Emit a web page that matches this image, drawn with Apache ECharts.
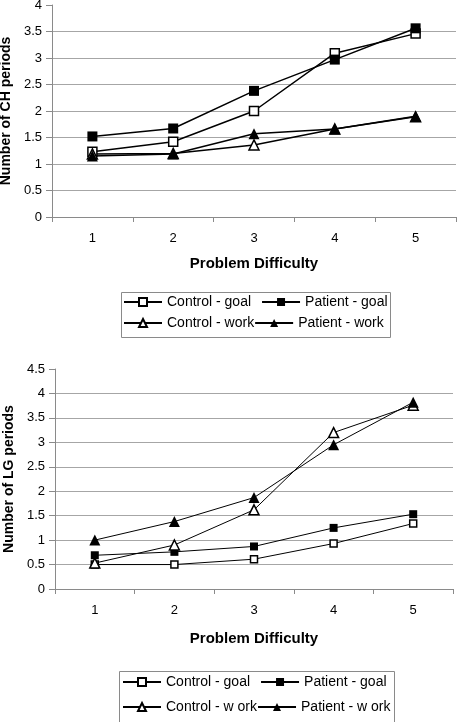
<!DOCTYPE html>
<html>
<head>
<meta charset="utf-8">
<script src="https://cdn.jsdelivr.net/npm/echarts@6/dist/echarts.min.js"></script>
<style>
html,body{margin:0;padding:0;background:#fff;}
#c{width:457px;height:722px;}
</style>
</head>
<body>
<div id="c"></div>
<script>
var categories = ['1', '2', '3', '4', '5'];
var ch_control_goal = [1.23, 1.42, 2.00, 3.09, 3.46];
var ch_patient_goal = [1.52, 1.67, 2.38, 2.97, 3.56];
var ch_control_work = [1.19, 1.20, 1.36, 1.66, 1.89];
var ch_patient_work = [1.15, 1.19, 1.57, 1.66, 1.90];
var lg_control_goal = [0.50, 0.50, 0.61, 0.93, 1.34];
var lg_patient_goal = [0.69, 0.76, 0.87, 1.25, 1.53];
var lg_control_work = [0.53, 0.90, 1.62, 3.20, 3.76];
var lg_patient_work = [1.00, 1.38, 1.87, 2.95, 3.82];

var FONT = '"Liberation Sans", Arial, sans-serif';
var AX = '#8a8a8a';
var GRID = '#a6a6a6';

function mkSeries(name, data, idx, symbol, open, size, lw) {
  return {
    type: 'line', name: name, data: data,
    xAxisIndex: idx, yAxisIndex: idx,
    symbol: symbol, symbolSize: size, showSymbol: true,
    lineStyle: { color: '#000', width: lw },
    itemStyle: { color: open ? '#fff' : '#000', borderColor: '#000', borderWidth: open ? 1.5 : 0 },
    emphasis: { disabled: true },
    animation: false
  };
}

function xAx(idx, gridIdx) {
  return {
    type: 'category', gridIndex: gridIdx, data: categories, boundaryGap: true,
    name: 'Problem Difficulty', nameLocation: 'middle', nameGap: idx === 0 ? 39 : 42,
    nameTextStyle: { fontFamily: FONT, fontSize: 15, fontWeight: 'bold', color: '#000' },
    axisLine: { lineStyle: { color: AX, width: 1 } },
    axisTick: { show: true, length: 5, lineStyle: { color: AX } },
    axisLabel: { fontFamily: FONT, fontSize: 13, color: '#000', margin: 15 },
    splitLine: { show: false }
  };
}
function yAx(gridIdx, max, name, gap) {
  return {
    type: 'value', gridIndex: gridIdx, min: 0, max: max, interval: 0.5,
    name: name, nameLocation: 'middle', nameGap: gap, nameRotate: 90,
    nameTextStyle: { fontFamily: FONT, fontSize: 14, fontWeight: 'bold', color: '#000' },
    axisLine: { show: true, lineStyle: { color: AX, width: 1 } },
    axisTick: { show: true, length: 6, lineStyle: { color: AX } },
    axisLabel: { fontFamily: FONT, fontSize: 13, color: '#000', margin: 10 },
    splitLine: { show: true, showMaxLine: false, showMinLine: false, lineStyle: { color: GRID, width: 1 } }
  };
}
function leg(data, left, top, gap) {
  return {
    data: data, left: left, top: top, orient: 'horizontal', itemGap: gap,
    itemWidth: 38, itemHeight: 10, padding: 0,
    textStyle: { fontFamily: FONT, fontSize: 14, color: '#000' },
    selectedMode: false
  };
}

var chart = echarts.init(document.getElementById('c'), null, { renderer: 'canvas' });
chart.setOption({
  backgroundColor: '#fff',
  animation: false,
  grid: [
    { left: 52, right: 1, top: 5, height: 212, containLabel: false, outerBoundsMode: 'none' },
    { left: 55, right: 4, top: 369, height: 220, containLabel: false, outerBoundsMode: 'none' }
  ],
  xAxis: [xAx(0, 0), xAx(1, 1)],
  yAxis: [yAx(0, 4, 'Number of CH periods', 35), yAx(1, 4.5, 'Number of LG periods', 38)],
  legend: [
    leg(['Control - goal', 'Patient - goal'], 123, 295, 10),
    leg(['Control - work', 'Patient - work'], 123, 316, 0),
    leg(['Control - goal', 'Patient - goal'], 122, 675, 10),
    leg(['Control - w ork', 'Patient - w ork'], 122, 700, 0)
  ],
  graphic: [
    { type: 'rect', left: 119, top: 290, shape: { width: 269, height: 45 }, style: { fill: 'none', stroke: '#8a8a8a', lineWidth: 1 }, silent: true },
    { type: 'rect', left: 117, top: 669, shape: { width: 275, height: 60 }, style: { fill: 'none', stroke: '#8a8a8a', lineWidth: 1 }, silent: true }
  ],
  series: [
    mkSeries('Control - goal', ch_control_goal, 0, 'rect', true, 9, 1.5),
    mkSeries('Patient - goal', ch_patient_goal, 0, 'rect', false, 10, 1.5),
    mkSeries('Control - work', ch_control_work, 0, 'triangle', true, 10, 1.5),
    mkSeries('Patient - work', ch_patient_work, 0, 'triangle', false, 11, 1.5),
    mkSeries('Control - goal', lg_control_goal, 1, 'rect', true, 7, 1),
    mkSeries('Patient - goal', lg_patient_goal, 1, 'rect', false, 8, 1),
    mkSeries('Control - w ork', lg_control_work, 1, 'triangle', true, 10, 1),
    mkSeries('Patient - w ork', lg_patient_work, 1, 'triangle', false, 11, 1)
  ]
});
</script>
</body>
</html>
